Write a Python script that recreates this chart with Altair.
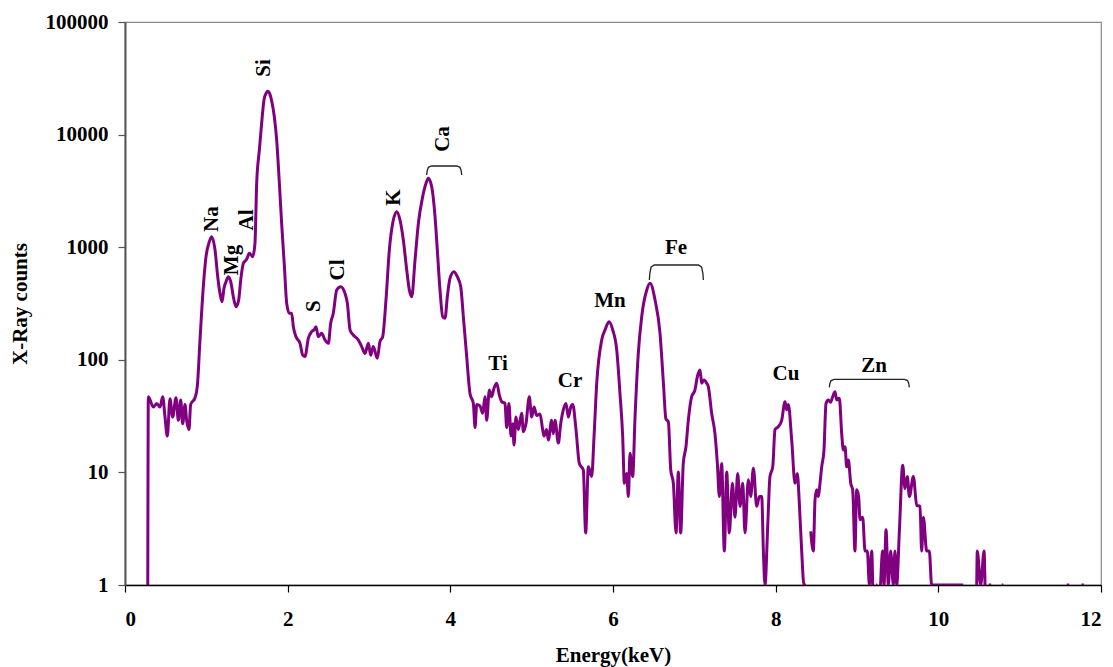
import altair as alt
import pandas as pd

energy = [
    0.280, 0.287, 0.348, 0.390, 0.430, 0.463, 0.492, 0.520, 0.553, 0.586, 0.627, 0.656, 0.685, 0.709,
    0.738, 0.758, 0.787, 0.807, 0.861, 0.889, 0.922, 0.963, 0.996, 1.037, 1.066, 1.107, 1.140, 1.168,
    1.193, 1.217, 1.242, 1.270, 1.300, 1.332, 1.365, 1.398, 1.423, 1.455, 1.496, 1.529, 1.570, 1.598,
    1.619, 1.652, 1.680, 1.709, 1.738, 1.758, 1.778, 1.803, 1.836, 1.865, 1.898, 1.926, 1.947, 1.960, 1.988,
    2.020, 2.049, 2.070, 2.103, 2.152, 2.185, 2.213, 2.254, 2.295, 2.325, 2.348, 2.377, 2.418, 2.459,
    2.500, 2.529, 2.561, 2.603, 2.652, 2.705, 2.734, 2.767, 2.807, 2.869, 2.910, 2.951, 2.992, 3.021,
    3.053, 3.102, 3.135, 3.168, 3.209, 3.250, 3.291, 3.340, 3.381, 3.422, 3.464, 3.496, 3.525, 3.566,
    3.607, 3.660, 3.701, 3.729, 3.771, 3.812, 3.840, 3.873, 3.906, 3.935, 3.963, 3.996, 4.045, 4.086,
    4.128, 4.160, 4.201, 4.242, 4.283, 4.304, 4.324, 4.365, 4.398, 4.426, 4.447, 4.480, 4.508, 4.537,
    4.570, 4.603, 4.631, 4.672, 4.693, 4.721, 4.746, 4.767, 4.783, 4.807, 4.836, 4.877, 4.898, 4.930,
    4.971, 5.000, 5.029, 5.062, 5.103, 5.135, 5.152, 5.184, 5.205, 5.246, 5.266, 5.287, 5.328, 5.357,
    5.389, 5.422, 5.451, 5.480, 5.505, 5.545, 5.586, 5.635, 5.664, 5.697, 5.738, 5.767, 5.800, 5.861,
    5.902, 5.951, 5.997, 6.046, 6.086, 6.119, 6.140, 6.168, 6.189, 6.209, 6.242, 6.271, 6.311, 6.353,
    6.415, 6.455, 6.517, 6.578, 6.620, 6.650, 6.681, 6.710, 6.742, 6.775, 6.803, 6.832, 6.864, 6.897,
    6.926, 6.967, 7.008, 7.037, 7.070, 7.090, 7.119, 7.152, 7.172, 7.213, 7.254, 7.283, 7.308, 7.336,
    7.369, 7.398, 7.430, 7.468, 7.500, 7.533, 7.562, 7.595, 7.623, 7.664, 7.693, 7.726, 7.767, 7.800,
    7.828, 7.849, 7.869, 7.902, 7.930, 7.964, 7.992, 8.033, 8.074, 8.115, 8.135, 8.156, 8.197, 8.238,
    8.266, 8.291, 8.320, 8.348, 8.373, 8.400, 8.431, 8.463, 8.484, 8.504, 8.525, 8.545, 8.566, 8.594,
    8.619, 8.648, 8.675, 8.701, 8.730, 8.750, 8.783, 8.812, 8.833, 8.853, 8.873, 8.894, 8.923, 8.947,
    8.975, 8.996, 9.020, 9.037, 9.070, 9.099, 9.127, 9.152, 9.181, 9.193, 9.210, 9.235, 9.250, 9.265,
    9.290, 9.316, 9.332, 9.357, 9.385, 9.414, 9.447, 9.467, 9.488, 9.521, 9.562, 9.590, 9.619, 9.644,
    9.693, 9.734, 9.775, 9.795, 9.816, 9.857, 9.889, 9.918, 10.307, 10.390, 10.472, 10.479, 10.521,
    10.562, 10.574, 10.600, 10.620, 10.650, 10.700, 10.780, 10.800, 11.000, 11.580, 11.610, 11.700,
    11.760, 11.790,
]

counts = [
    1, 47, 38, 41, 38, 47, 31, 21, 45, 31, 46, 29, 44, 27,
    40, 29, 24, 40, 46, 58, 150, 446, 824, 1120, 1240, 944, 547, 389,
    328, 432, 494, 547, 494, 363, 296, 340, 512, 719, 780, 883, 824, 1084,
    3690, 7300, 12600, 20300, 23500, 24300, 23200, 20000, 14400, 8950, 3690, 1630, 944, 671, 318,
    259, 259, 197, 160, 140, 110, 107, 155, 178, 185, 197, 160, 172, 150,
    140, 211, 259, 417, 446, 389, 318, 184, 166, 150, 131, 114, 140, 110,
    131, 103, 145, 160, 340, 944, 1630, 2065, 1745, 1159, 627, 417, 363, 769,
    1630, 2811, 3690, 4090, 3445, 1866, 944, 417, 242, 234, 363, 530, 606, 547,
    446, 242, 107, 50, 41, 25, 40, 39, 33.5, 47, 29, 54, 47, 56,
    62, 48.5, 42.5, 41, 25, 41, 21, 27, 17.5, 31, 24, 33.5, 23, 27,
    47, 31, 38, 32, 33, 24, 21, 24, 19.4, 29, 22, 29, 18.2, 27,
    36, 41, 31, 38, 40, 24, 12, 10.5, 2.9, 11.2, 9.2, 21, 62, 150,
    184, 218, 184, 122, 50, 21, 8, 9.8, 6.1, 14.8, 9.2, 31, 114, 242,
    417, 478, 340, 172, 62, 30, 28, 10.5, 8, 2.9, 10.1, 2.9, 12, 16.9,
    29, 47, 54, 70.8, 81, 62, 66, 62, 57.8, 33.5, 22, 12, 6.1, 12,
    2, 10.1, 2.9, 8, 4, 9.8, 5, 8, 2.9, 8.6, 6.1, 10.9, 5, 6.1,
    6.1, 2, 1, 3.3, 9.2, 11.2, 24, 25.5, 29, 42.5, 36, 40, 19.4, 8,
    9.8, 5.3, 2, 1, 1, None, 3, 2, 5.7, 7, 6.1, 8, 11.2, 15.8,
    41, 44, 42, 47, 52, 44, 45.5, 22, 15.8, 16.9, 11.2, 12.9, 8, 7,
    2, 7, 6.1, 3.8, 4, 2, 2, 1, 2, 1, None, 1, 1, None,
    1, 2, 1, 3.1, 1, 2, 1, 2, 1, 3, 11.6, 7.2, 9.2, 6.1,
    9.2, 5.1, 5, 2, 4, 2, 2, 1, 1, None, 1, 2, 1,
    2, 1, None, 1, 1, None, 1, 1, None, 1, 1, None,
    1, 1,
]

label_text = ["Na", "Mg", "Al", "Si", "S", "Cl", "K", "Ca", "Ti", "Cr", "Mn", "Fe", "Cu", "Zn"]
label_energy = [1.064, 1.316, 1.506, 1.709, 2.324, 2.613, 3.307, 3.910, 4.586, 5.471, 5.963, 6.775, 8.127, 9.209]
label_counts = [1778, 770, 1745, 39000, 300, 627, 2763, 9140, 92, 65, 333, 984, 75, 88]
label_vertical = [True, True, True, True, True, True, True, True, False, False, False, False, False, False]

bracket_name = ["Ca", "Fe", "Zn"]
bracket_start = [3.709, 6.447, 8.660]
bracket_end = [4.140, 7.111, 9.643]
bracket_top = [5260, 695, 67]
bracket_foot = [4380, 511, 57]

spec = pd.DataFrame({"energy": energy, "counts": counts})
spec["i"] = range(len(spec))

labels = pd.DataFrame({"text": label_text, "energy": label_energy,
                       "counts": label_counts, "vertical": label_vertical})

# bracket outlines with rounded corners
rows = []
r = 0.06
shape = [(0.0, 0.0), (0.1, 0.45), (0.35, 0.85), (1.0, 1.0)]
for n, s, e, t, f in zip(bracket_name, bracket_start, bracket_end, bracket_top, bracket_foot):
    pts = [(s + dx * r, f * (t / f) ** ty) for dx, ty in shape]
    pts += [(e - dx * r, f * (t / f) ** ty) for dx, ty in reversed(shape)]
    for k, (x, y) in enumerate(pts):
        rows.append({"name": n, "k": k, "energy": x, "counts": y})
brackets = pd.DataFrame(rows)

FONT = "Liberation Serif"

xscale = alt.Scale(domain=[0, 12], nice=False)
yscale = alt.Scale(type="log", domain=[1, 100000], nice=False)

line = alt.Chart(spec).mark_line(color="#800080", strokeWidth=3, clip=True,
                                 interpolate="monotone", strokeJoin="round").encode(
    x=alt.X("energy:Q", scale=xscale,
            axis=alt.Axis(title="Energy(keV)", values=[0, 2, 4, 6, 8, 10, 12], format="d",
                          grid=False, tickSize=7, labelPadding=16, domainColor="#000",
                          domainWidth=1.5, tickColor="#000", tickWidth=1.2,
                          titleX=488, titleY=76, titleBaseline="alphabetic")),
    y=alt.Y("counts:Q", scale=yscale,
            axis=alt.Axis(title="X-Ray counts", values=[1, 10, 100, 1000, 10000, 100000], format="d",
                          grid=False, tickSize=7, labelPadding=10, domainColor="#555",
                          domainWidth=2, tickColor="#555", tickWidth=1.2,
                          titleX=-105, titleY=281.5, titleBaseline="middle", titleAlign="center")),
    order="i:Q",
)

bracket_layer = alt.Chart(brackets).mark_line(color="#222", strokeWidth=1.3).encode(
    x=alt.X("energy:Q", scale=xscale),
    y=alt.Y("counts:Q", scale=yscale),
    detail="name:N",
    order="k:Q",
)

vert = alt.Chart(labels).transform_filter("datum.vertical").mark_text(
    font=FONT, fontWeight="bold", fontSize=21, angle=270, align="center", baseline="middle", color="#000"
).encode(x=alt.X("energy:Q", scale=xscale), y=alt.Y("counts:Q", scale=yscale), text="text:N")

horiz = alt.Chart(labels).transform_filter("!datum.vertical").mark_text(
    font=FONT, fontWeight="bold", fontSize=21, align="center", baseline="middle", color="#000"
).encode(x=alt.X("energy:Q", scale=xscale), y=alt.Y("counts:Q", scale=yscale), text="text:N")

chart = alt.layer(line, bracket_layer, vert, horiz).properties(
    width=976, height=563,
    autosize=alt.AutoSizeParams(type="none"),
    padding={"left": 117, "top": 14, "right": 4, "bottom": 82},
).configure_view(stroke="#888", strokeWidth=1.2).configure_axis(
    labelFont=FONT, labelFontWeight="bold", labelFontSize=21, labelColor="#000",
    titleFont=FONT, titleFontWeight="bold", titleFontSize=21, titleColor="#000",
)

chart.save("out.html", embed_options={"renderer": "svg", "actions": False})
